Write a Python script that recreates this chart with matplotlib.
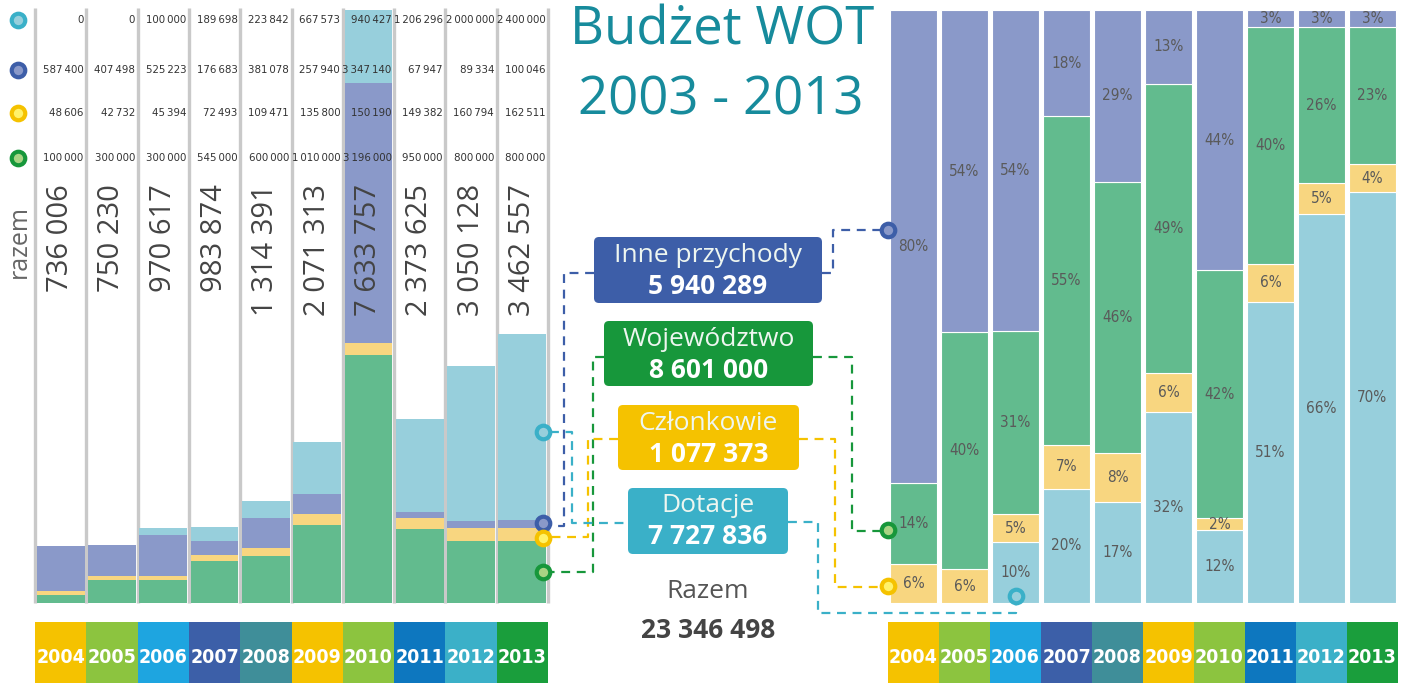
import numpy as np
import matplotlib.pyplot as plt
from matplotlib import font_manager
from matplotlib.patches import FancyBboxPatch
from matplotlib.transforms import blended_transform_factory

W, H = 1406, 683

# budget data 2004-2013
years = ["2004", "2005", "2006", "2007", "2008", "2009", "2010", "2011", "2012", "2013"]
dotacje = [0, 0, 100000, 189698, 223842, 667573, 940427, 1206296, 2000000, 2400000]
inne = [587400, 407498, 525223, 176683, 381078, 257940, 3347140, 67947, 89334, 100046]
czlonkowie = [48606, 42732, 45394, 72493, 109471, 135800, 150190, 149382, 160794, 162511]
wojewodztwo = [100000, 300000, 300000, 545000, 600000, 1010000, 3196000, 950000, 800000, 800000]

# percent labels as printed on the right chart
pct_dot = [None, None, 10, 20, 17, 32, 12, 51, 66, 70]
pct_czl = [6, 6, 5, 7, 8, 6, 2, 6, 5, 4]
pct_woj = [14, 40, 31, 55, 46, 49, 42, 40, 26, 23]
pct_inne = [80, 54, 54, 18, 29, 13, 44, 3, 3, 3]

year_colors = ["#f5c200", "#8cc43f", "#1ea5e0", "#3c5fa8", "#3f8e99",
               "#f5c200", "#8cc43f", "#0d77bf", "#3bb0c8", "#1a9e3c"]

# bar fills
F_DOT = "#97cfdc"
F_INNE = "#8a99c9"
F_CZL = "#f8d680"
F_WOJ = "#62bb8e"
# strong colours (boxes, rings)
S_DOT = "#3ab0c8"
S_INNE = "#3d5ea8"
S_CZL = "#f5c200"
S_WOJ = "#17973b"
TEAL = "#178b9c"

SANS = ["Open Sans", "DejaVu Sans"]

# look for a condensed face; fall back to a plain narrow-ish sans
_fonts = font_manager.fontManager.ttflist
_cond = [f for f in _fonts
         if "narrow" in f.name.lower() or "condensed" in f.name.lower()
         or str(f.stretch).lower() in ("condensed", "semi-condensed", "extra-condensed")
         or (isinstance(f.stretch, int) and f.stretch < 500)]
if _cond:
    NARROW = dict(family=[_cond[0].name, "DejaVu Sans"], fontstretch=_cond[0].stretch)
    K = 1.0
else:
    NARROW = dict(family=["Liberation Sans", "DejaVu Sans"])
    K = 0.85


def fmt(v):
    return f"{v:,}".replace(",", " ")


fig = plt.figure(figsize=(W / 100, H / 100), dpi=100)
fig.patch.set_facecolor("white")


def px_axes(x0, y0, x1, y1):
    """Axes from a pixel box with top-left origin."""
    ax = fig.add_axes([x0 / W, 1 - y1 / H, (x1 - x0) / W, (y1 - y0) / H])
    ax.axis("off")
    return ax


x = np.arange(len(years))
dot = np.array(dotacje)
inn = np.array(inne)
czl = np.array(czlonkowie)
woj = np.array(wojewodztwo)
razem = dot + inn + czl + woj

# =========================================================================
# Left: stacked absolute values
# =========================================================================
LT, LB = 8, 603
axl = px_axes(35, LT, 548, LB)
ymax = razem.max() * (LB - LT) / (LB - 10)
axl.set_xlim(-0.5, len(years) - 0.5)
axl.set_ylim(0, ymax)
axl.vlines(np.arange(len(years) + 1) - 0.5, 0, ymax, color="#c9c9c9", lw=2.4,
           clip_on=False, zorder=1)
bw = 0.93
axl.bar(x, woj, bw, color=F_WOJ, zorder=2)
axl.bar(x, czl, bw, bottom=woj, color=F_CZL, zorder=2)
axl.bar(x, inn, bw, bottom=woj + czl, color=F_INNE, zorder=2)
axl.bar(x, dot, bw, bottom=woj + czl + inn, color=F_DOT, zorder=2)

tr = blended_transform_factory(axl.transData, axl.transAxes)
rows = [(dotacje, 20), (inne, 70), (czlonkowie, 113), (wojewodztwo, 158)]
for vals, ypx in rows:
    yf = (LB - ypx) / (LB - LT)
    for i, v in enumerate(vals):
        axl.text(i + 0.45, yf, fmt(v).replace(" ", "\u2009"), transform=tr,
                 ha="right", va="center", fontsize=8.2 * K, color="#333333",
                 zorder=5, **NARROW)

for i, v in enumerate(razem):
    axl.text(i, (LB - 184) / (LB - LT), fmt(v), transform=tr, rotation=90,
             ha="center", va="top", fontsize=21, color="#444444", family=SANS,
             zorder=5)

# =========================================================================
# Right: 100% stacked shares
# =========================================================================
axr = px_axes(888, 10, 1398, 603)
axr.set_xlim(-0.5, len(years) - 0.5)
axr.set_ylim(0, 1)
s_dot, s_czl, s_woj, s_inn = dot / razem, czl / razem, woj / razem, inn / razem
rb = 0.94
segs = [(s_dot, 0, F_DOT, pct_dot),
        (s_czl, s_dot, F_CZL, pct_czl),
        (s_woj, s_dot + s_czl, F_WOJ, pct_woj),
        (s_inn, s_dot + s_czl + s_woj, F_INNE, pct_inne)]
for share, bottom, col, labels in segs:
    axr.bar(x, share, rb, bottom=bottom, color=col, edgecolor="white", lw=0.8)
    for i, lab in enumerate(labels):
        if lab is None:
            continue
        b = bottom[i] if np.ndim(bottom) else bottom
        axr.text(i, b + share[i] / 2, f"{lab}%", ha="center", va="center",
                 fontsize=11 * K, color="#5a5a5a", **NARROW)

# =========================================================================
# Year bands
# =========================================================================
for (x0, x1) in [(35, 548), (888, 1398)]:
    axb = px_axes(x0, 622, x1, 683)
    axb.set_xlim(-0.5, len(years) - 0.5)
    axb.set_ylim(0, 1)
    axb.bar(x, 1, 1.0, color=year_colors)
    for i, yr in enumerate(years):
        axb.text(i, 0.42, yr, ha="center", va="center", fontsize=14 * K,
                 color="white", fontweight="bold", **NARROW)

# =========================================================================
# Overlay: title, boxes, connectors, markers
# =========================================================================
ov = fig.add_axes([0, 0, 1, 1])
ov.set_xlim(0, W)
ov.set_ylim(H, 0)
ov.axis("off")
ov.patch.set_alpha(0)

ov.text(722, 31, "Budżet WOT", ha="center", va="center", fontsize=38,
        color=TEAL, family=SANS)
ov.text(721, 101, "2003 - 2013", ha="center", va="center", fontsize=38,
        color=TEAL, family=SANS)

ov.text(19, 242, "razem", rotation=90, ha="center", va="center", fontsize=18,
        color="#666666", family=SANS)

boxes = [("Inne przychody", inn.sum(), S_INNE, 594, 822, 237, 303),
         ("Województwo", woj.sum(), S_WOJ, 604, 813, 321, 386),
         ("Członkowie", czl.sum(), S_CZL, 618, 799, 405, 470),
         ("Dotacje", dot.sum(), S_DOT, 628, 788, 488, 554)]
for name, total, col, x0, x1, y0, y1 in boxes:
    ov.add_patch(FancyBboxPatch((x0, y0), x1 - x0, y1 - y0,
                                boxstyle="round,pad=0,rounding_size=5",
                                facecolor=col, edgecolor="none", zorder=3))
    cx = (x0 + x1) / 2
    ov.text(cx, y0 + 18, name, ha="center", va="center", fontsize=19,
            color="#eef6f0", family=SANS, zorder=4)
    ov.text(cx, y0 + 49, fmt(total), ha="center", va="center", fontsize=19,
            color="white", fontweight="bold", family=SANS, zorder=4)

ov.text(708, 592, "Razem", ha="center", va="center", fontsize=19,
        color="#555555", family=SANS)
ov.text(708, 630, fmt(razem.sum()), ha="center", va="center", fontsize=19,
        color="#444444", fontweight="bold", family=SANS)

dash = dict(lw=1.6, linestyle=(0, (4, 3)), zorder=2)
# Inne przychody
ov.plot([594, 564, 564, 552], [273, 273, 526, 526], color=S_INNE, **dash)
ov.plot([822, 833, 833, 888], [273, 273, 230, 230], color=S_INNE, **dash)
# Województwo
ov.plot([604, 593, 593, 550], [357, 357, 572, 572], color=S_WOJ, **dash)
ov.plot([813, 852, 852, 888], [357, 357, 531, 531], color=S_WOJ, **dash)
# Członkowie
ov.plot([618, 588, 588, 550], [439, 439, 537, 537], color=S_CZL, **dash)
ov.plot([799, 835, 835, 888], [439, 439, 587, 587], color=S_CZL, **dash)
# Dotacje
ov.plot([550, 572, 572, 628], [432, 432, 523, 523], color=S_DOT, **dash)
ov.plot([788, 818, 818, 1016, 1016], [522, 522, 613, 613, 603], color=S_DOT, **dash)

markers = [
    # left legend
    (18, 20, S_DOT, F_DOT), (18, 70, S_INNE, F_INNE),
    (18, 113, S_CZL, "#fff26a"), (18, 158, S_WOJ, "#a8d484"),
    # left chart ends
    (543, 432, S_DOT, F_DOT), (543, 523, S_INNE, F_INNE),
    (543, 538, S_CZL, "#fff26a"), (543, 572, S_WOJ, "#a8d484"),
    # right chart ends
    (888, 230, S_INNE, F_INNE), (888, 530, S_WOJ, "#a8d484"),
    (888, 586, S_CZL, "#fff26a"), (1016, 596, S_DOT, F_DOT),
]
for mx, my, ring, fill in markers:
    ov.scatter([mx], [my], s=95, facecolor=fill, edgecolor=ring,
               linewidths=3, zorder=6)

fig.savefig("out.png", dpi=100, facecolor="white")
